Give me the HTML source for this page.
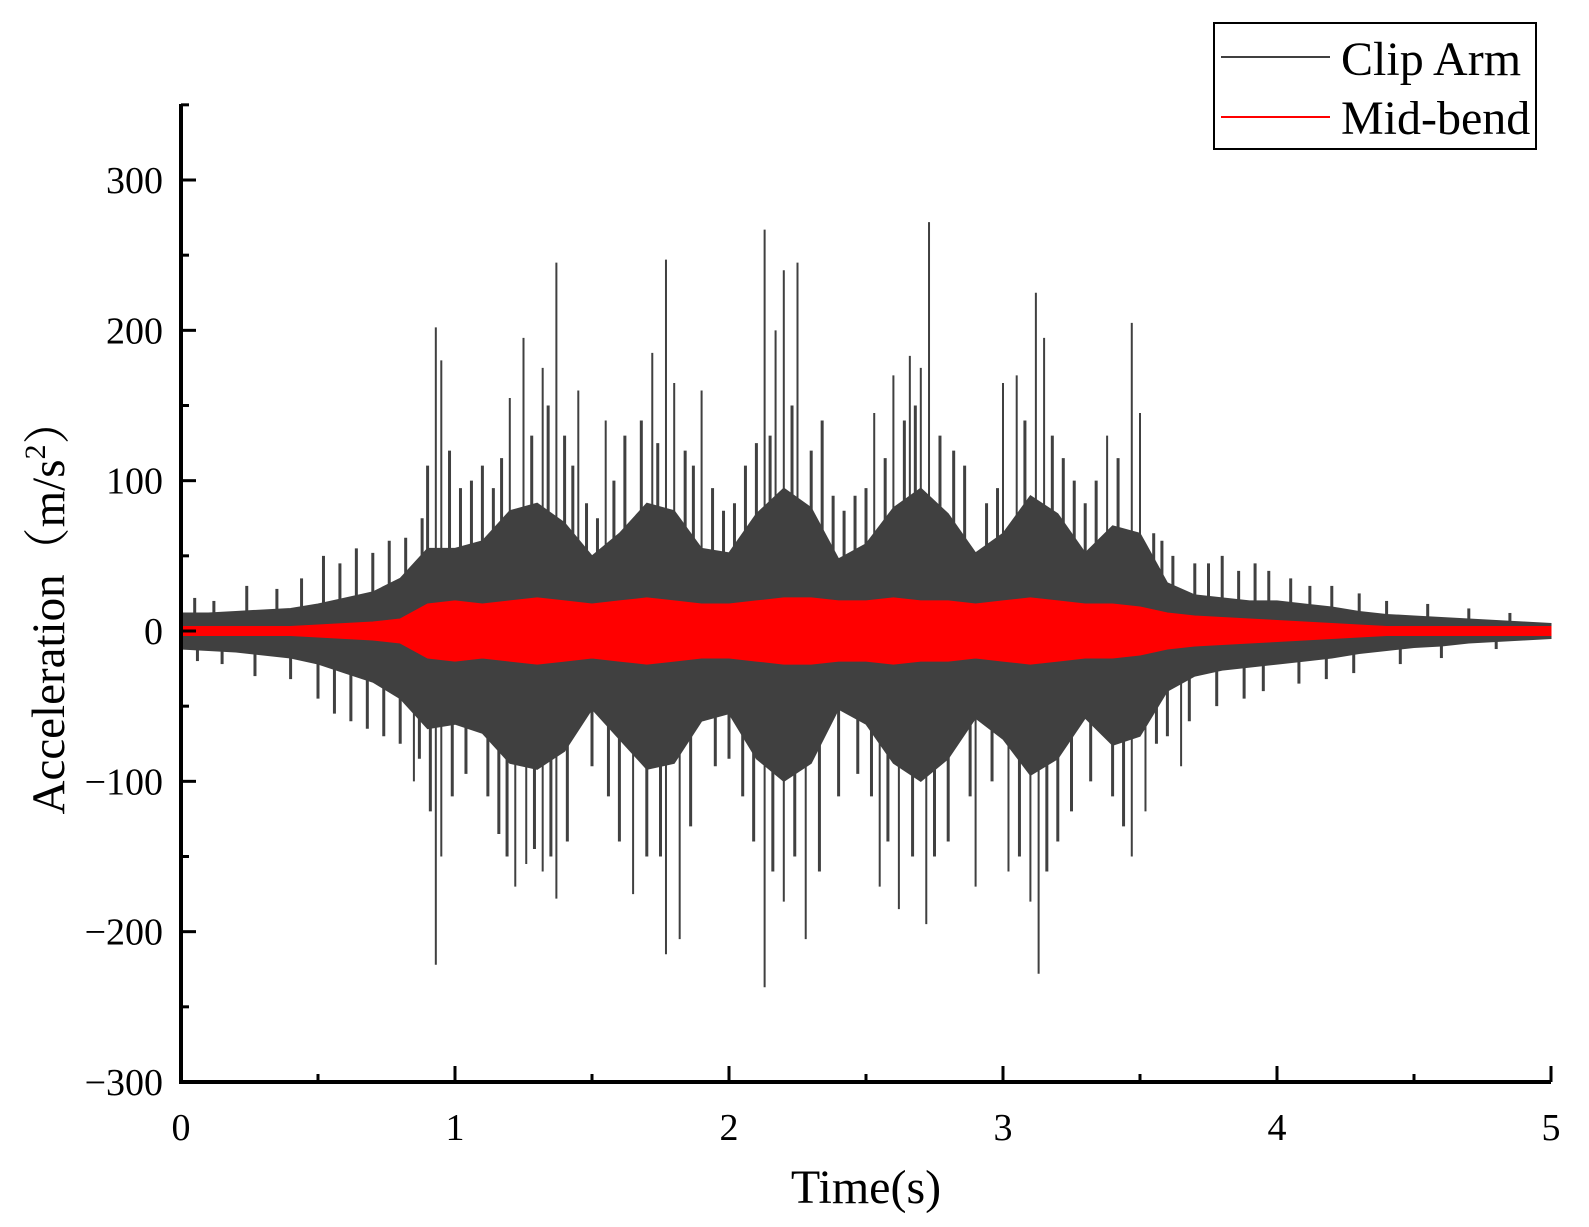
<!DOCTYPE html>
<html><head><meta charset="utf-8"><style>
html,body{margin:0;padding:0;background:#fff;}
svg{display:block;font-family:"Liberation Serif","Noto Serif CJK SC",serif;}
</style></head><body>
<svg id="chart" width="1589" height="1227" viewBox="0 0 1589 1227" xmlns="http://www.w3.org/2000/svg">
<g id="plot"></g>
<g id="axes"></g>
<text x="866" y="1203" font-size="48" text-anchor="middle">Time(s)</text>
<text transform="translate(64,606) rotate(-90)" font-size="47" text-anchor="middle">Acceleration（m/s<tspan font-size="30" dy="-19">2</tspan><tspan dy="19">）</tspan></text>
<g>
<rect x="1214" y="23" width="322" height="126" fill="#fff" stroke="#000" stroke-width="2"/>
<line x1="1221" y1="57" x2="1330" y2="57" stroke="#404040" stroke-width="2"/>
<text x="1341" y="75" font-size="48">Clip Arm</text>
<line x1="1221" y1="117" x2="1330" y2="117" stroke="#ff0000" stroke-width="2"/>
<text x="1341" y="134" font-size="48">Mid-bend</text>
</g>
</svg>
<script>
// ---- data ----
const envTimes = [0,0.1,0.2,0.3,0.4,0.5,0.6,0.7,0.8,0.9,1.0,1.1,1.2,1.3,1.4,1.5,1.6,1.7,1.8,1.9,2.0,2.1,2.2,2.3,2.4,2.5,2.6,2.7,2.8,2.9,3.0,3.1,3.2,3.3,3.4,3.5,3.6,3.7,3.8,3.9,4.0,4.1,4.2,4.3,4.4,4.5,4.6,4.7,4.8,4.9,5.0];
const clipUpper = [12,12,13,14,15,18,22,26,35,55,55,60,80,85,72,50,65,85,80,55,52,78,95,82,48,58,82,95,78,52,65,90,78,52,70,65,32,24,22,20,20,18,16,13,11,10,9,8,7,6,5];
const clipLower = [-12,-13,-14,-16,-18,-22,-28,-34,-45,-65,-62,-68,-88,-92,-80,-52,-72,-92,-88,-60,-55,-85,-100,-88,-52,-62,-88,-100,-85,-58,-72,-96,-85,-58,-76,-70,-40,-30,-26,-24,-22,-20,-18,-15,-13,-11,-10,-8,-7,-6,-5];
const midUpper = [3,3,3,3,3,4,5,6,8,18,20,18,20,22,20,18,20,22,20,18,18,20,22,22,20,20,22,20,20,18,20,22,20,18,18,16,12,10,9,8,7,6,5,4,3,3,3,3,3,3,3];
const midLower = [-3,-3,-3,-3,-3,-4,-5,-6,-8,-18,-20,-18,-20,-22,-20,-18,-20,-22,-20,-18,-18,-20,-22,-22,-20,-20,-22,-20,-20,-18,-20,-22,-20,-18,-18,-16,-12,-10,-9,-8,-7,-6,-5,-4,-3,-3,-3,-3,-3,-3,-3];
const spikeTimes = [0.93,0.95,1.2,1.25,1.32,1.37,1.45,1.55,1.72,1.77,1.8,1.9,2.13,2.17,2.2,2.25,2.53,2.6,2.66,2.7,2.73,3.0,3.05,3.12,3.15,3.38,3.47,3.5,
  0.85,0.93,0.95,1.22,1.26,1.32,1.37,1.65,1.77,1.82,2.13,2.2,2.28,2.55,2.62,2.72,2.9,3.02,3.1,3.13,3.47,3.52,3.65];
const spikeValues = [202,180,155,195,175,245,160,140,185,247,165,160,267,200,240,245,145,170,183,175,272,165,170,225,195,130,205,145,
  -100,-222,-150,-170,-155,-160,-178,-175,-215,-205,-237,-180,-205,-170,-185,-195,-170,-160,-180,-228,-150,-120,-90];
const minorTimes = [0.05,0.12,0.24,0.35,0.44,0.52,0.58,0.64,0.7,0.76,0.82,0.88,0.9,0.98,1.02,1.06,1.1,1.14,1.17,1.28,1.34,1.4,1.43,1.48,1.52,1.58,1.62,1.68,1.74,1.84,1.87,1.94,1.98,2.02,2.06,2.1,2.15,2.23,2.3,2.34,2.38,2.42,2.46,2.5,2.57,2.64,2.68,2.77,2.82,2.86,2.94,2.98,3.08,3.18,3.22,3.26,3.3,3.34,3.42,3.55,3.58,3.62,3.7,3.75,3.8,3.86,3.92,3.97,4.05,4.12,4.2,4.3,4.4,4.55,4.7,4.85,
  0.06,0.15,0.27,0.4,0.5,0.56,0.62,0.68,0.74,0.8,0.87,0.91,0.99,1.04,1.12,1.16,1.19,1.29,1.35,1.41,1.5,1.56,1.6,1.7,1.75,1.86,1.95,2.0,2.05,2.09,2.16,2.24,2.33,2.4,2.47,2.52,2.58,2.67,2.75,2.8,2.88,2.96,3.06,3.16,3.2,3.25,3.32,3.4,3.44,3.56,3.6,3.68,3.78,3.88,3.95,4.08,4.18,4.28,4.45,4.6,4.8];
const minorValues = [22,20,30,28,35,50,45,55,52,60,62,75,110,120,95,100,110,95,115,130,150,130,110,85,75,100,130,140,125,120,110,95,80,85,110,125,130,150,120,140,90,80,90,95,115,140,150,130,120,110,85,95,140,130,115,100,85,100,115,65,60,50,45,45,50,40,45,40,35,30,30,25,20,18,15,12,
  -20,-22,-30,-32,-45,-55,-60,-65,-70,-75,-85,-120,-110,-95,-110,-135,-150,-145,-150,-140,-90,-110,-140,-150,-150,-130,-90,-85,-110,-140,-160,-150,-160,-110,-95,-110,-140,-150,-150,-140,-110,-100,-150,-160,-140,-120,-100,-110,-130,-75,-70,-60,-50,-45,-40,-35,-32,-28,-22,-18,-12];
const xTicks = [0,1,2,3,4,5];
const yTicks = [-300,-200,-100,0,100,200,300];

// ---- scales ----
const X0=181, X1=1551, Y300=180, Ym300=1082;
const xs = t => X0 + (t/5)*(X1-X0);
const ys = v => Ym300 - (v+300)/600*(Ym300-Y300);
const NS='http://www.w3.org/2000/svg';
const plot=document.getElementById('plot'), axes=document.getElementById('axes');
function mk(tag, attrs, parent){const e=document.createElementNS(NS,tag);for(const k in attrs)e.setAttribute(k,attrs[k]);parent.appendChild(e);return e;}

function band(up, lo, color, name){
  let d='M'+xs(envTimes[0])+','+ys(up[0]);
  for(let i=1;i<envTimes.length;i++) d+=' L'+xs(envTimes[i])+','+ys(up[i]);
  for(let i=envTimes.length-1;i>=0;i--) d+=' L'+xs(envTimes[i])+','+ys(lo[i]);
  const p=mk('path',{d:d+'Z',fill:color,stroke:color,'stroke-width':1},plot);
  
  
}
band(clipUpper, clipLower, '#404040', 'clip-arm-series');
for(let i=0;i<minorTimes.length;i++){
  const l=mk('line',{x1:xs(minorTimes[i]),x2:xs(minorTimes[i]),y1:ys(0),y2:ys(minorValues[i]),stroke:'#404040','stroke-width':3},plot);
  
  
}
for(let i=0;i<spikeTimes.length;i++){
  const l=mk('line',{x1:xs(spikeTimes[i]),x2:xs(spikeTimes[i]),y1:ys(0),y2:ys(spikeValues[i]),stroke:'#404040','stroke-width':2},plot);
  
  
}
band(midUpper, midLower, '#ff0000', 'mid-bend-series');

// axes
const ya=mk('line',{x1:X0,x2:X0,y1:104,y2:Ym300+2,stroke:'#000','stroke-width':4},axes);


const xa=mk('line',{x1:X0-2,x2:X1,y1:Ym300,y2:Ym300,stroke:'#000','stroke-width':4},axes);


for(let v=-300; v<=350; v+=50){
  const major = v%100===0;
  const t=mk('line',{x1:X0,x2:X0+(major?15:8),y1:ys(v),y2:ys(v),stroke:'#000','stroke-width':3},axes);
  
  
}
yTicks.forEach(v=>{
  const t=mk('text',{x:163,y:ys(v)+13,'font-size':38,'text-anchor':'end'},axes);
  t.textContent = v<0 ? '\u2212'+Math.abs(v) : String(v);
  
  
});
for(let t5=0; t5<=5; t5+=0.5){
  const major = Number.isInteger(t5);
  const t=mk('line',{x1:xs(t5),x2:xs(t5),y1:Ym300,y2:Ym300-(major?16:8),stroke:'#000','stroke-width':3},axes);
  
  
}
xTicks.forEach(v=>{
  const t=mk('text',{x:xs(v),y:1140,'font-size':38,'text-anchor':'middle'},axes);
  t.textContent = String(v);
  
  
});
</script>
</body></html>
